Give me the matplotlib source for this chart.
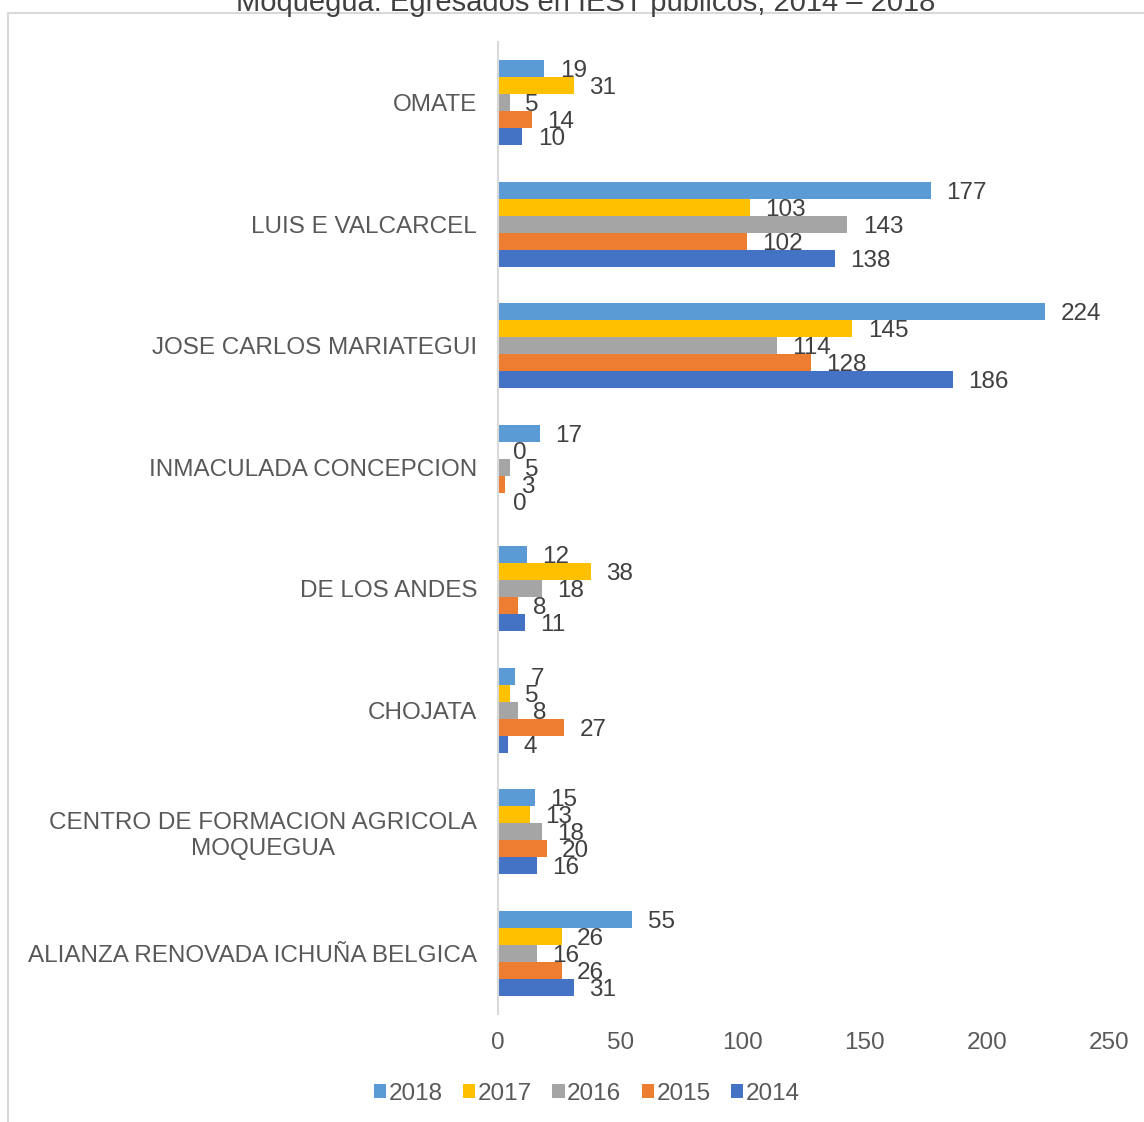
import matplotlib.pyplot as plt
import numpy as np
from matplotlib.patches import Rectangle

# data (top to bottom as in the chart)
institutos = ['OMATE', 'LUIS E VALCARCEL', 'JOSE CARLOS MARIATEGUI',
              'INMACULADA CONCEPCION', 'DE LOS ANDES', 'CHOJATA',
              'CENTRO DE FORMACION AGRICOLA\nMOQUEGUA',
              'ALIANZA RENOVADA ICHUÑA BELGICA']
years = ['2018', '2017', '2016', '2015', '2014']
v2018 = [19, 177, 224, 17, 12, 7, 15, 55]
v2017 = [31, 103, 145, 0, 38, 5, 13, 26]
v2016 = [5, 143, 114, 5, 18, 8, 18, 16]
v2015 = [14, 102, 128, 3, 8, 27, 20, 26]
v2014 = [10, 138, 186, 0, 11, 4, 16, 31]
series = [v2018, v2017, v2016, v2015, v2014]
colors = ['#5B9BD5', '#FFC000', '#A5A5A5', '#ED7D31', '#4472C4']

plt.rcParams['font.family'] = ['Liberation Sans', 'DejaVu Sans']
fs = 17.5

fig = plt.figure(figsize=(11.44, 11.22), dpi=100)
ax = fig.add_axes([0.4353, 0.0963, 0.5341, 0.8663])

# gray frame of the chart area (cut off on the right/bottom)
fig.patches.append(Rectangle((8 / 1144, -0.1), 2, 1.1 - 13 / 1122,
                             transform=fig.transFigure, fill=False,
                             edgecolor='#D9D9D9', linewidth=1.5))

n = len(institutos)
y = np.arange(n)[::-1]  # first category on top
h = 0.14
for i, (vals, c, yr) in enumerate(zip(series, colors, years)):
    pos = y + (2 - i) * h
    bars = ax.barh(pos, vals, height=h, color=c, label=yr)
    txt = ax.bar_label(bars, labels=[str(v) for v in vals], padding=11,
                       fontsize=fs, color='#404040')
    for t in txt:
        t.set_va('center')
        t.set_y(-1.8)

ax.set_xlim(0, 250)
ax.set_ylim(-0.5, n - 0.5)
ax.set_xticks([0, 50, 100, 150, 200, 250])
ax.set_yticks(y)
ax.set_yticklabels(institutos, multialignment='center')
ax.tick_params(axis='both', length=0, labelsize=fs, labelcolor='#595959')
ax.tick_params(axis='x', pad=13)
ax.tick_params(axis='y', pad=15)
for s in ['top', 'right', 'bottom']:
    ax.spines[s].set_visible(False)
ax.spines['left'].set_color('#D9D9D9')
ax.spines['left'].set_linewidth(1.5)

fig.text(0.512, 0.997, 'Moquegua: Egresados en IEST públicos, 2014 – 2018',
         ha='center', va='center', fontsize=21, color='#404040')

fig.legend(loc='center', bbox_to_anchor=(0.513, 0.025), ncol=5,
           frameon=False, fontsize=fs, labelcolor='#595959',
           handlelength=0.5, handleheight=0.5, handletextpad=0.1,
           columnspacing=0.85)

fig.savefig('out.png', dpi=100)
